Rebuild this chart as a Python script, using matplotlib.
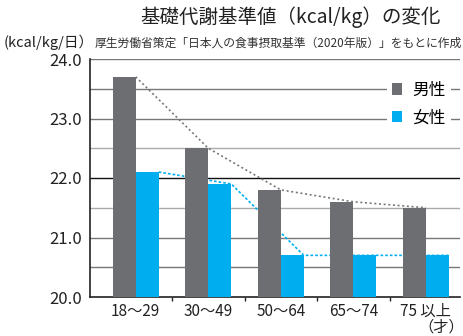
import matplotlib.pyplot as plt
import numpy as np

plt.rcParams['font.family'] = ['Noto Sans CJK JP', 'DejaVu Sans']

ages = ['18〜29', '30〜49', '50〜64', '65〜74', '75 以上']
male = [23.7, 22.5, 21.8, 21.6, 21.5]
female = [22.1, 21.9, 20.7, 20.7, 20.7]
yticks = [20.0, 21.0, 22.0, 23.0, 24.0]

male_color = '#6d6e71'
female_color = '#00aeef'

fig = plt.figure(figsize=(4.64, 3.36), dpi=100)
ax = fig.add_axes([90 / 464, 39 / 336, 370 / 464, 238 / 336])

x = np.arange(len(ages))
w = 0.317

# horizontal guide lines every 0.5
for v in np.arange(20.5, 24.01, 0.5):
    if v == 22.0:
        c = '#111111'
    elif v in (21.5, 22.5):
        c = '#aaaaaa'
    else:
        c = '#777777'
    ax.axhline(v, color=c, lw=1.0, zorder=1)

ax.bar(x - w / 2, [m - 20 for m in male], w, bottom=20, color=male_color, zorder=3, label='男性')
ax.bar(x + w / 2, [f - 20 for f in female], w, bottom=20, color=female_color, zorder=3, label='女性')

# dotted trend lines through the top-right corner of each bar
ax.plot(x, male, ls=(0, (1.2, 1.6)), color='#777777', lw=1.2, zorder=2)
ax.plot(x + w, female, ls=(0, (1.6, 1.2)), color=female_color, lw=1.2, zorder=2)

ax.set_xlim(-0.63, 4.47)
ax.set_ylim(20, 24)
ax.set_yticks(yticks)
ax.set_yticklabels([f'{t:.1f}' for t in yticks], fontsize=12, color='#222222')
ax.tick_params(axis='y', length=0, pad=6)

ax.set_xticks(x)
ax.set_xticklabels(ages, fontsize=11, color='#222222')
ax.set_xticks(np.arange(0.5, 4.5, 1), minor=True)
ax.tick_params(axis='x', which='major', length=0, pad=4)
ax.tick_params(axis='x', which='minor', length=3, width=1, direction='out', color='#222222')

for s in ['top', 'right']:
    ax.spines[s].set_visible(False)
for s in ['left', 'bottom']:
    ax.spines[s].set_color('#222222')
    ax.spines[s].set_linewidth(1.2)

leg = ax.legend(loc='upper right', bbox_to_anchor=(0.975, 0.925), frameon=True, fontsize=12,
                handlelength=0.65, handleheight=0.65, handletextpad=0.6, labelspacing=0.65,
                borderpad=0.3, borderaxespad=0, fancybox=False)
leg.get_frame().set_facecolor('white')
leg.get_frame().set_edgecolor('none')
leg.get_frame().set_alpha(1)
leg.set_zorder(5)

fig.text(0.627, 0.948, '基礎代謝基準値（kcal/kg）の変化', ha='center', va='center',
         fontsize=14, color='#222222')
fig.text(0.008, 0.873, '(kcal/kg/日）', ha='left', va='center', fontsize=10.5, color='#222222')
fig.text(0.203, 0.873, '厚生労働省策定「日本人の食事摂取基準（2020年版）」をもとに作成',
         ha='left', va='center', fontsize=8.5, color='#333333')
fig.text(0.952, 0.028, '（才）', ha='center', va='center', fontsize=11, color='#222222')

fig.savefig('out.png', dpi=100)
